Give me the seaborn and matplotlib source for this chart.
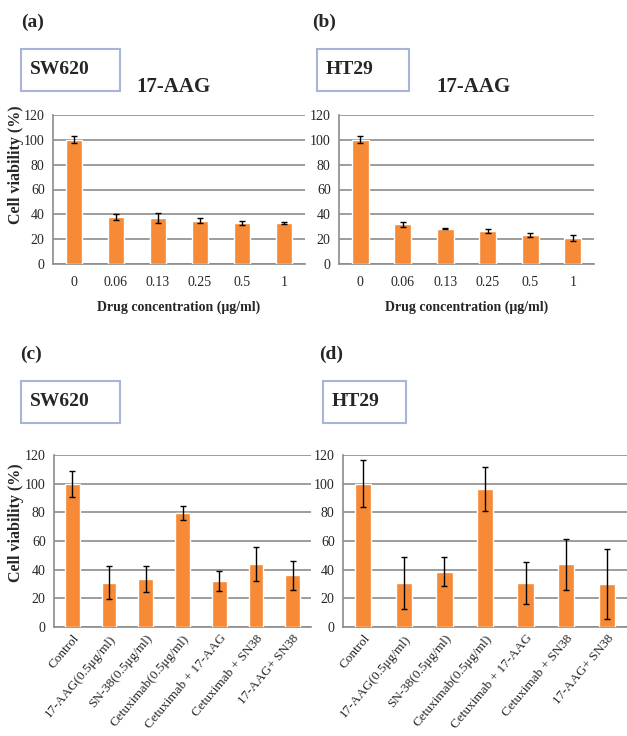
import numpy as np
import pandas as pd
import matplotlib
matplotlib.use('Agg')
import matplotlib.pyplot as plt
from matplotlib.patches import Rectangle
from matplotlib.ticker import FixedLocator
import seaborn as sns

# --- data --------------------------------------------------------------------
conc_labels = ['0', '0.06', '0.13', '0.25', '0.5', '1']
sw620_conc_mean = [100, 37.8, 36.8, 35.0, 32.8, 33.0]
sw620_conc_err = [2.8, 2.2, 4.0, 2.3, 1.5, 0.5]
ht29_conc_mean = [100, 32.2, 28.4, 26.5, 23.1, 21.2]
ht29_conc_err = [2.8, 2.0, 0.6, 1.6, 1.7, 2.3]

treat_labels = ['Control', '17-AAG(0.5μg/ml)', 'SN-38(0.5μg/ml)', 'Cetuximab(0.5μg/ml)',
                'Cetuximab + 17-AAG', 'Cetuximab + SN38', '17-AAG+ SN38']
sw620_treat_mean = [100, 31.0, 33.5, 79.5, 32.0, 43.8, 36.0]
sw620_treat_err = [9.0, 11.6, 8.9, 5.0, 7.0, 12.0, 10.0]
ht29_treat_mean = [100, 30.6, 38.6, 96.0, 30.6, 43.8, 30.2]
ht29_treat_err = [16.5, 18.3, 10.0, 15.3, 14.6, 17.8, 24.5]

BAR = '#F68A36'
GRID = '#8C8C8C'
W, H = 627, 736

sns.set_style('white')
plt.rcParams['font.family'] = ['Liberation Serif', 'DejaVu Serif']

fig = plt.figure(figsize=(W / 100, H / 100), dpi=100)


def px_axes(left, top, right, bottom):
    return fig.add_axes([left / W, 1 - bottom / H, (right - left) / W, (bottom - top) / H])


def draw_panel(ax, labels, mean, err, rotate=False):
    df = pd.DataFrame({'cat': labels, 'val': mean})
    sns.barplot(data=df, x='cat', y='val', order=labels, color=BAR, width=0.4,
                saturation=1, errorbar=None, ax=ax, zorder=3)
    ax.errorbar(np.arange(len(labels)), mean, yerr=err, fmt='none', ecolor='black',
                elinewidth=1.0, capsize=2.5, capthick=1.0, zorder=4)
    n = len(labels)
    ax.set_xlim(-0.5, n - 0.5)
    ax.set_ylim(0, 120)
    ax.set_yticks(range(0, 121, 20))
    ax.yaxis.grid(True, color=GRID, linewidth=1.2, zorder=0)
    ax.set_axisbelow(True)
    for s in ['top', 'right']:
        ax.spines[s].set_visible(False)
    for s in ['left', 'bottom']:
        ax.spines[s].set_color(GRID)
        ax.spines[s].set_linewidth(1.2)
    ax.xaxis.set_minor_locator(FixedLocator(np.arange(-0.5, n, 1.0)))
    ax.tick_params(axis='x', which='major', length=0, pad=9 if not rotate else 4, labelsize=10)
    ax.tick_params(axis='x', which='minor', length=4, color=GRID, width=1.2)
    ax.tick_params(axis='y', length=4, color=GRID, width=1.2, labelsize=10, pad=2)
    ax.set_xlabel('')
    ax.set_ylabel('')
    if rotate:
        ax.set_xticks(range(n))
        ax.set_xticklabels(labels, rotation=50, ha='right', rotation_mode='anchor',
                           fontsize=9.5)


ax_a = px_axes(53, 115, 305, 264)
draw_panel(ax_a, conc_labels, sw620_conc_mean, sw620_conc_err)
ax_b = px_axes(339, 115, 594, 264)
draw_panel(ax_b, conc_labels, ht29_conc_mean, ht29_conc_err)
ax_c = px_axes(54, 455, 311, 627)
draw_panel(ax_c, treat_labels, sw620_treat_mean, sw620_treat_err, rotate=True)
ax_d = px_axes(343, 455, 627, 627)
draw_panel(ax_d, treat_labels, ht29_treat_mean, ht29_treat_err, rotate=True)

for ax in (ax_a, ax_b):
    ax.set_xlabel('Drug concentration (μg/ml)', fontsize=10, fontweight='bold', labelpad=8)


def ftext(x, y, s, **kw):
    fig.text(x / W, 1 - y / H, s, **kw)


def fbox(x0, y0, x1, y1):
    fig.patches.append(Rectangle((x0 / W, 1 - y1 / H), (x1 - x0) / W, (y1 - y0) / H,
                                 transform=fig.transFigure, facecolor='white',
                                 edgecolor='#A7B6D8', linewidth=1.5))


ftext(16, 165, 'Cell viability (%)', rotation=90, ha='center', va='center',
      fontsize=11.5, fontweight='bold')
ftext(16, 523, 'Cell viability (%)', rotation=90, ha='center', va='center',
      fontsize=11.5, fontweight='bold')

# panel letters
for x, y, s in [(21, 22, '(a)'), (312, 22, '(b)'), (20, 354, '(c)'), (319, 354, '(d)')]:
    ftext(x, y, s, ha='left', va='center', fontsize=14, fontweight='bold')

# cell line boxes
for x0, y0, x1, y1, s in [(21, 49, 120, 91, 'SW620'), (317, 49, 409, 91, 'HT29'),
                          (21, 381, 120, 423, 'SW620'), (323, 381, 406, 423, 'HT29')]:
    fbox(x0, y0, x1, y1)
    ftext(x0 + 9, (y0 + y1) / 2, s, ha='left', va='center', fontsize=14, fontweight='bold')

ftext(173, 87, '17-AAG', ha='center', va='center', fontsize=15, fontweight='bold')
ftext(473, 87, '17-AAG', ha='center', va='center', fontsize=15, fontweight='bold')

fig.savefig('out.png', dpi=100)
